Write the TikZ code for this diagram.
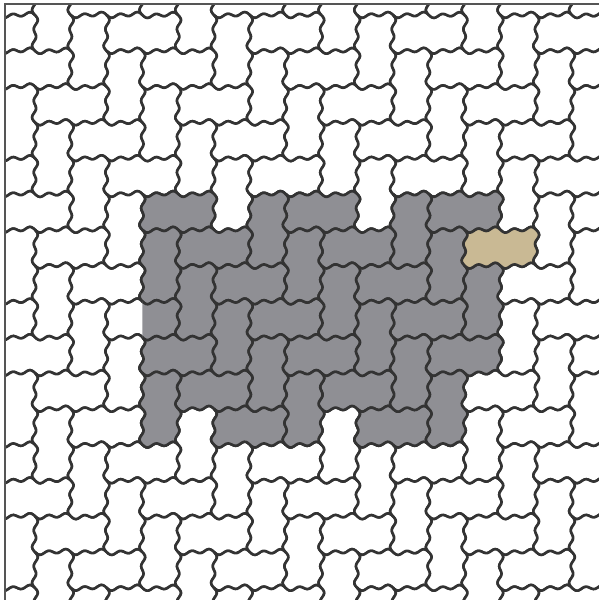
\documentclass[tikz,border=0pt]{standalone}
\usepackage{tikz}
\definecolor{edgec}{HTML}{333333}
\definecolor{stonegray}{HTML}{8F8F94}
\definecolor{stonetan}{HTML}{C9B994}
\definecolor{framec}{HTML}{555555}
\def\gx{-0.8}
\def\gy{15}
\def\gu{35.8}
\def\amp{2.0}
\newcommand{\wv}[1]{(\amp*sin(720*(#1))+0.6*\amp*sin(360*(#1)))}
\newcommand{\hbrk}[3]{%
 \path[brickline,#3] plot[domain=0:2,samples=41] ({\gx+\gu*((#1)+\x)},{\gy+\gu*(#2)+\wv{\x}})
  -- plot[domain=0:1,samples=21] ({\gx+\gu*((#1)+2)+\wv{\x}},{\gy+\gu*((#2)+\x)})
  -- plot[domain=2:0,samples=41] ({\gx+\gu*((#1)+\x)},{\gy+\gu*((#2)+1)+\wv{\x}})
  -- plot[domain=1:0,samples=21] ({\gx+\gu*(#1)+\wv{\x}},{\gy+\gu*((#2)+\x)}) -- cycle;}
\newcommand{\vbrk}[3]{%
 \path[brickline,#3] plot[domain=0:1,samples=21] ({\gx+\gu*((#1)+\x)},{\gy+\gu*(#2)+\wv{\x}})
  -- plot[domain=0:2,samples=41] ({\gx+\gu*((#1)+1)+\wv{\x}},{\gy+\gu*((#2)+\x)})
  -- plot[domain=1:0,samples=21] ({\gx+\gu*((#1)+\x)},{\gy+\gu*((#2)+2)+\wv{\x}})
  -- plot[domain=2:0,samples=41] ({\gx+\gu*(#1)+\wv{\x}},{\gy+\gu*((#2)+\x)}) -- cycle;}
\tikzset{
 brickline/.style={draw=edgec,line width=2.6pt,line join=round},
 whitestone/.style={fill=white},
 graystone/.style={fill=stonegray},
 tanstone/.style={fill=stonetan},
 frameline/.style={draw=framec,line width=2pt}
}
\begin{document}
\begin{tikzpicture}[x=1pt,y=-1pt]
\useasboundingbox (0,0) rectangle (599,600);
\fill[white] (0,0) rectangle (599,600);
\begin{scope}
\clip (5,4) rectangle (599,600);
% all stones, white
\foreach \c in {-2,...,17}{
 \foreach \r in {-2,...,17}{
  \pgfmathtruncatemacro{\m}{mod(\c-\r+40,4)}
  \ifnum\m=3 \hbrk{\c}{\r}{whitestone}\fi
  \ifnum\m=2 \vbrk{\c}{\r}{whitestone}\fi
 }
}
% gray horizontal stones
\foreach \c/\r in {4/5,8/5,12/5,5/6,9/6,6/7,10/7,7/8,11/8,4/9,8/9,12/9,5/10,9/10,6/11,10/11}{
 \hbrk{\c}{\r}{graystone}
}
% gray vertical stones
\foreach \c/\r in {7/5,11/5,4/6,8/6,12/6,5/7,9/7,13/7,6/8,10/8,7/9,11/9,4/10,8/10,12/10}{
 \vbrk{\c}{\r}{graystone}
}
% half stone at the left edge of the gray area
\begin{scope}
\clip (142.4,290) rectangle (200,350);
\hbrk{3}{8}{graystone}
\end{scope}
% tan stone
\hbrk{13}{6}{tanstone}
\end{scope}
\coordinate (fb) at (5,600);
\coordinate (fc) at (5,4);
\coordinate (fr) at (599,4);
\draw[frameline] (fb) -- (fc) -- (fr);
\end{tikzpicture}
\end{document}
